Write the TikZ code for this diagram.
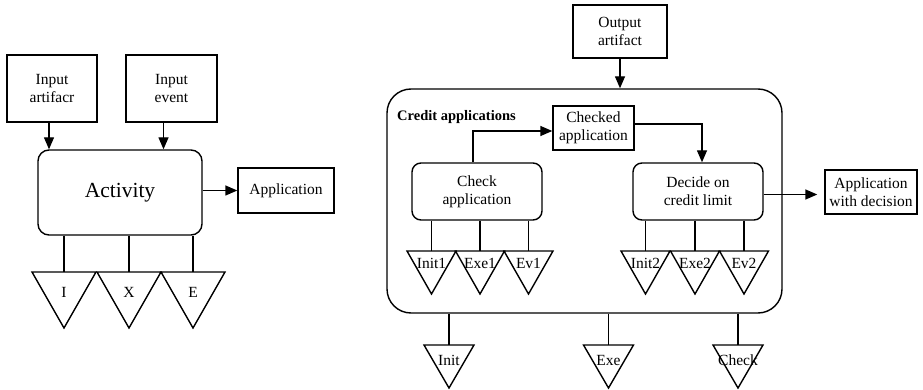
\documentclass[tikz,border=0pt]{standalone}
\usepackage{fontspec}
\setmainfont{Liberation Serif}
\usetikzlibrary{arrows.meta}
\begin{document}
\begin{tikzpicture}[x=1pt,y=-1pt,
  ln/.style={line width=1.4pt},
  arr/.style={ln,-{Triangle[length=12pt,width=10pt]}},
  box/.style={draw,ln,align=center,inner sep=0pt,font=\fontsize{15.5}{18}\selectfont},
  rbox/.style={box,rounded corners=9pt},
  lbl/.style={inner sep=0pt,font=\fontsize{15.5}{18}\selectfont},
  tripath/.style={ln,line join=miter}]
\useasboundingbox (0,0) rectangle (923,390);
% ---------- left diagram ----------
\node[box,minimum width=90pt,minimum height=67pt] (ia) at (52,88.5) {Input\\artifacr};
\node[box,minimum width=91pt,minimum height=67pt] (ie) at (171.5,88.5) {Input\\event};
\node[rbox,rounded corners=11pt,minimum width=164pt,minimum height=85pt,font=\fontsize{21.5}{24}\selectfont] (act) at (120,192.5) {Activity};
\node[box,minimum width=96pt,minimum height=45pt] (app) at (286,190.5) {Application};
\draw[arr] ([xshift=-3pt]ia.south) -- ([xshift=-3pt]ia.south |- act.north);
\draw[arr] ([xshift=-8pt]ie.south) -- ([xshift=-8pt]ie.south |- act.north);
\draw[arr] (act.east |- app.west) -- (app.west);
\foreach \cx/\t/\n in {64/I/tI,129/X/tX,193/E/tE}{
  \coordinate (\n) at (\cx,272);
  \draw[tripath] (\cx-32,272) -- (\cx+32,272) -- (\cx,328) -- cycle;
  \node[lbl] (\n l) at (\cx,292) {\t};
  \draw[ln] (act.south -| \n) -- (\n);
}
% ---------- right diagram ----------
\node[box,minimum width=94pt,minimum height=53pt] (out) at (620,31.5) {Output\\artifact};
\node[draw,ln,rounded corners=24pt,minimum width=395pt,minimum height=224pt,inner sep=0pt] (big) at (584.5,201) {};
\node[anchor=west,inner sep=0pt,font=\fontsize{14.5}{17}\selectfont\bfseries] (title) at (397,117) {Credit applications};
\node[box,minimum width=81pt,minimum height=44pt] (chk) at (593.5,128) {Checked\\application};
\node[rbox,minimum width=130pt,minimum height=57pt] (ca) at (477,191.5) {Check\\application};
\node[rbox,minimum width=130pt,minimum height=57pt] (dc) at (698,191.5) {Decide on\\credit limit};
\node[box,minimum width=92pt,minimum height=44pt] (awd) at (871,192) {Application\\with decision};
\draw[arr] (out.south) -- (out.south |- big.north);
\draw[arr] ([xshift=-4pt]ca.north) |- ([yshift=-3pt]chk.west);
\draw[arr] ([yshift=4pt]chk.east) -| ([xshift=4pt]dc.north);
\draw[arr,shorten >=7pt] ([yshift=-3pt]dc.east) -- ([yshift=-3pt]dc.east -| awd.west);
\foreach \cx/\t/\n/\b in {431.5/Init1/ti1/ca,480/Exe1/te1/ca,528.5/Ev1/tv1/ca,645.5/Init2/ti2/dc,695/Exe2/te2/dc,744/Ev2/tv2/dc}{
  \coordinate (\n) at (\cx,251);
  \draw[tripath] (\cx-24.5,251) -- (\cx+24.5,251) -- (\cx,294) -- cycle;
  \node[lbl] (\n l) at (\cx,263) {\t};
  \draw[ln] (\b.south -| \n) -- (\n);
}
\foreach \cx/\t/\n in {449/Init/tin,608.5/Exe/tex,738/Check/tch}{
  \coordinate (\n) at (\cx,345);
  \draw[tripath] (\cx-25,345) -- (\cx+25,345) -- (\cx,388) -- cycle;
  \node[lbl] (\n l) at (\cx,360) {\t};
  \draw[ln] (big.south -| \n) -- (\n);
}
\end{tikzpicture}
\end{document}
